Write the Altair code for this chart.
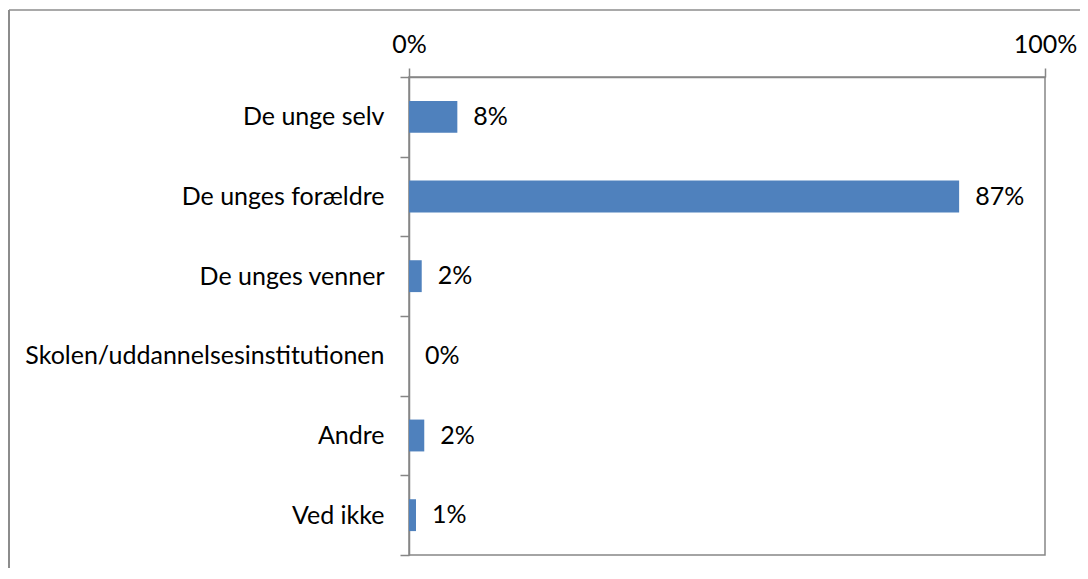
import altair as alt
import pandas as pd

categories = ["De unge selv", "De unges forældre", "De unges venner ",
              "Skolen/uddannelsesinstitutionen", "Andre", "Ved ikke"]
values = [7.6, 86.5, 2.0, 0.0, 2.4, 1.1]
labels = ["8%", "87%", "2%", "0%", "2%", "1%"]
x_ticks = [0, 100]

df = pd.DataFrame({"cat": categories, "val": values, "lab": labels})

FONT = "Lato"
FS = 25
AX = "#868686"
W, H = 636, 478
PL, PT, PR, PB = 401, 69, 35, 13

yenc = alt.Y("cat:N", sort=categories,
             scale=alt.Scale(paddingInner=0, paddingOuter=0),
             axis=alt.Axis(title=None, tickBand="extent", tickSize=9, tickColor=AX,
                           tickWidth=1.5, domainColor=AX, domainWidth=1.5,
                           labelFont=FONT, labelFontSize=FS, labelColor="#000000",
                           labelPadding=16, labelLimit=600))
xenc = alt.X("val:Q", scale=alt.Scale(domain=[0, 100], nice=False),
             axis=alt.Axis(orient="top", title=None, values=x_ticks,
                           labelExpr="datum.value + '%'", tickSize=9, tickColor=AX,
                           tickWidth=1.5, domainColor=AX, domainWidth=1.5, grid=False,
                           labelFont=FONT, labelFontSize=FS, labelColor="#000000",
                           labelPadding=11, labelFlush=False))

bars = alt.Chart(df).mark_bar(color="#4f81bd", height={"band": 0.4}).encode(x=xenc, y=yenc)
text = alt.Chart(df).mark_text(align="left", baseline="middle", dx=16,
                               font=FONT, fontSize=FS, color="#000000").encode(
    x="val:Q", y=alt.Y("cat:N", sort=categories), text="lab:N")

frame_data = alt.Data(values=[{"k": 1}])
top_rule = alt.Chart(frame_data).mark_rule(color="#8c8c8c", strokeWidth=1.5).encode(
    x=alt.value(-PL + 1), x2=alt.value(W + PR + 5), y=alt.value(-PT + 2))
left_rule = alt.Chart(frame_data).mark_rule(color="#8c8c8c", strokeWidth=2).encode(
    x=alt.value(-PL + 1), y=alt.value(-PT + 2), y2=alt.value(H + PB + 5))

chart = alt.layer(bars, text, top_rule, left_rule).properties(
    width=W, height=H,
    padding={"left": PL, "top": PT, "right": PR, "bottom": PB},
    autosize=alt.AutoSizeParams(type="none"),
    background="white",
).configure_view(stroke=AX, strokeWidth=1.5)

chart.save("out.html", embed_options={"renderer": "svg", "actions": False})
